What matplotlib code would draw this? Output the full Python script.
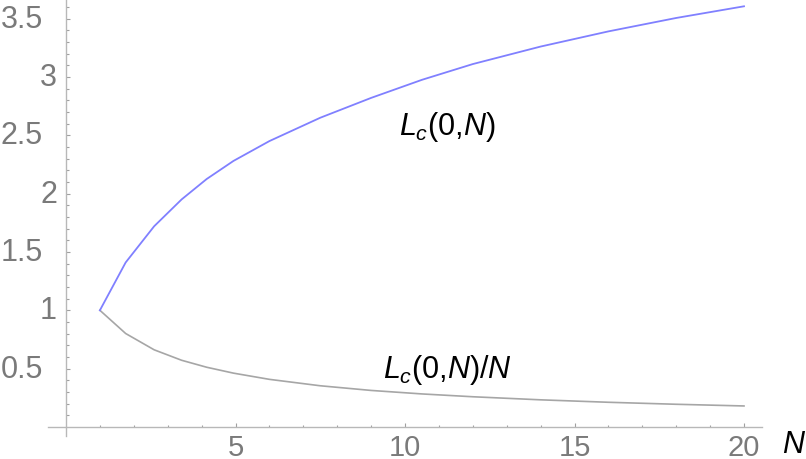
import numpy as np
import matplotlib
matplotlib.use('Agg')
import matplotlib.pyplot as plt

plt.rcParams['font.family'] = ['Liberation Sans', 'DejaVu Sans']
plt.rcParams['mathtext.fontset'] = 'custom'
plt.rcParams['mathtext.it'] = 'Liberation Sans:italic'
plt.rcParams['mathtext.rm'] = 'Liberation Sans'

# values
N = [1, 1.76, 2.6, 3.41, 4.15, 4.94, 6, 7.5, 9, 10.5, 12, 14, 16, 18, 20]
Lc = [1.0, 1.41, 1.72, 1.95, 2.125, 2.28, 2.45, 2.65, 2.82, 2.975, 3.11, 3.26, 3.39, 3.505, 3.605]
x_ticks = [5, 10, 15, 20]
y_ticks = [0.5, 1, 1.5, 2, 2.5, 3, 3.5]
y_labels = ['0.5', '1', '1.5', '2', '2.5', '3', '3.5']

N = np.array(N)
Lc = np.array(Lc)

fig = plt.figure(figsize=(8.06, 4.60), dpi=100)
ax = fig.add_axes([0, 0, 1, 1])

ax.plot(N, Lc / N, color='#a6a6a6', lw=1.2, zorder=3)
ax.plot(N, Lc, color='#8080ff', lw=1.3, zorder=4)

ax.set_xlim(-66 / 33.9, (806 - 66) / 33.9)
ax.set_ylim((428 - 460) / 116.7, 428 / 116.7)

for s in ['top', 'right']:
    ax.spines[s].set_visible(False)
ax.spines['left'].set_position(('data', 0))
ax.spines['bottom'].set_position(('data', 0))
ax.spines['left'].set_bounds(-0.08, 3.7)
ax.spines['bottom'].set_bounds(-0.53, 20.53)
for s in ['left', 'bottom']:
    ax.spines[s].set_color('#b8b8b8')
    ax.spines[s].set_linewidth(1.0)

ax.set_xticks(x_ticks)
ax.set_xticks(range(1, 21), minor=True)
ax.set_yticks(y_ticks)
ax.set_yticks(np.arange(0.1, 3.65, 0.1), minor=True)
ax.tick_params(which='both', direction='in', color='#a0a0a0', width=0.8)
ax.tick_params(which='major', length=3.2)
ax.tick_params(which='minor', length=1.8)
ax.tick_params(axis='x', which='major', labelsize=21, labelcolor='#7a7a7a', pad=4)
ax.tick_params(axis='y', labelleft=False)

for v, lab in zip(y_ticks, y_labels):
    xp = -0.68 if '.' in lab else -0.265
    ax.text(xp, v, lab, ha='right', va='center', fontsize=22, color='#7a7a7a')

ax.text(11.24, 2.58, r'$L_c(0{,}N)$', ha='center', va='center',
        fontsize=22, color='black')
ax.text(11.24, 0.50, r'$L_c(0{,}N)/N$', ha='center', va='center',
        fontsize=22, color='black')
ax.text(21.47, -0.146, r'$N$', ha='center', va='center', fontsize=22, color='black')

fig.savefig('out.png', dpi=100)
